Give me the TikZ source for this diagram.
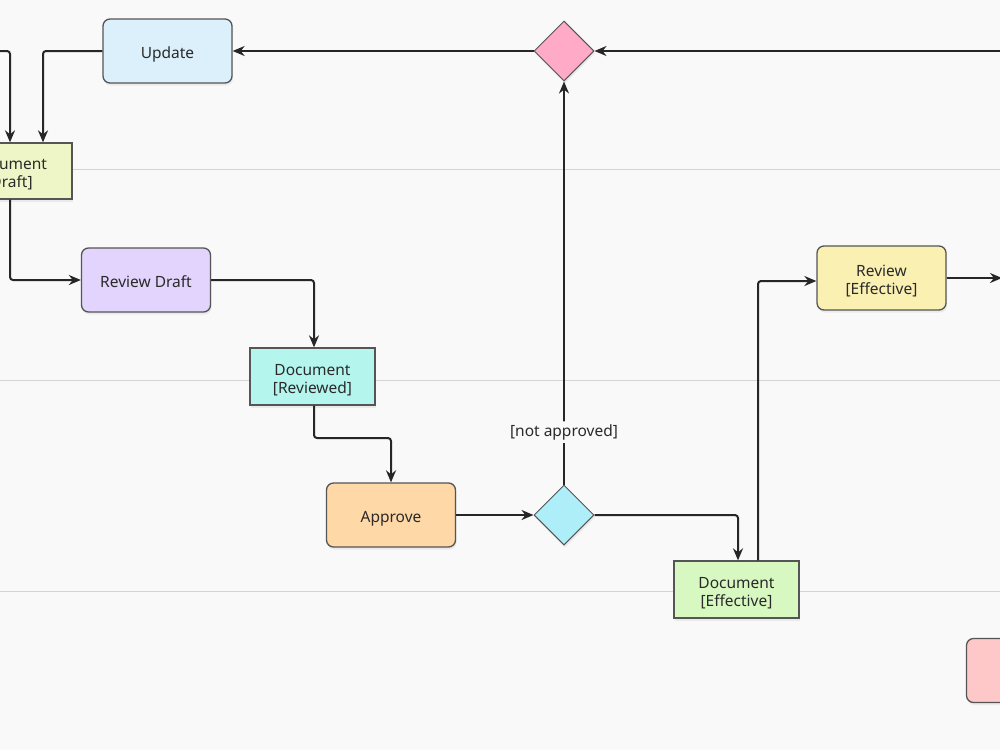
\documentclass[tikz,border=0pt]{standalone}
\usepackage{fontspec}
\setmainfont{Noto Sans}
\usetikzlibrary{shapes.geometric,arrows.meta,shadows}
\definecolor{bg}{HTML}{F9F9F9}
\definecolor{lane}{HTML}{D4D4D4}
\definecolor{edgec}{HTML}{555555}
\definecolor{txt}{HTML}{2A2A2A}
\definecolor{cUpdate}{HTML}{DCF0FB}
\definecolor{cPink}{HTML}{FFAAC6}
\definecolor{cDraft}{HTML}{EEF6C8}
\definecolor{cRevDraft}{HTML}{E2D4FC}
\definecolor{cReviewed}{HTML}{B4F5EE}
\definecolor{cApprove}{HTML}{FFD8A8}
\definecolor{cCyan}{HTML}{AEEEF8}
\definecolor{cEff}{HTML}{D8F8C2}
\definecolor{cRevEff}{HTML}{FAF0B2}
\definecolor{cRed}{HTML}{FFC8C8}
\newcommand{\lowtxt}[1]{\raisebox{-4pt}[\height][\depth]{\begin{tabular}{@{}c@{}}#1\end{tabular}}}
\tikzset{
  txtfont/.style={font=\fontsize{15.5}{18}\selectfont},
  base/.style={draw=edgec, line width=1.3pt, text=txt, txtfont, align=center, inner sep=0pt,
    drop shadow={opacity=0.12, shadow xshift=1pt, shadow yshift=-2.5pt}},
  actbox/.style={base, rectangle, rounded corners=7pt, minimum width=129pt, minimum height=64pt},
  objbox/.style={base, rectangle, minimum width=125pt, minimum height=57pt},
  decbox/.style={base, diamond, minimum width=60pt, minimum height=60pt, line width=1pt},
  flow/.style={line width=2pt, black!85, rounded corners=3pt, -{Stealth[length=12pt,width=10pt]}},
  lanel/.style={lane, line width=0.9pt}
}
\begin{document}
\begin{tikzpicture}[x=1pt,y=-1pt]
\useasboundingbox (0,0) rectangle (1000,750);
\fill[bg] (0,0) rectangle (1000,750);
\clip (0,0) rectangle (1000,750);
\draw[lanel] (0,169) -- (1000,169);
\draw[lanel] (0,380) -- (1000,380);
\draw[lanel] (0,591) -- (1000,591);

\node[actbox, fill=cUpdate] (update) at (167.5,51) {\lowtxt{Update}};
\node[decbox, fill=cPink] (merge) at (564,51) {};
\node[objbox, fill=cDraft, minimum width=126pt, minimum height=56pt] (draft) at (9,171) {\lowtxt{Document\\{}[Draft]}};
\node[actbox, fill=cRevDraft] (revdraft) at (146,280) {\lowtxt{Review Draft}};
\node[objbox, fill=cReviewed] (reviewed) at (312.5,376.5) {\lowtxt{Document\\{}[Reviewed]}};
\node[actbox, fill=cApprove] (approve) at (391,515) {\lowtxt{Approve}};
\node[decbox, fill=cCyan] (dec) at (564,515) {};
\node[objbox, fill=cEff] (effective) at (736.5,589.5) {\lowtxt{Document\\{}[Effective]}};
\node[actbox, fill=cRevEff] (reveff) at (881.5,278) {\lowtxt{Review\\{}[Effective]}};
\node[actbox, fill=cRed] (redbox) at (1031,670.5) {};

\coordinate (inleft) at (-5,51);
\coordinate (inright) at (1005,51);
\coordinate (outright) at (1002,278);

\draw[flow] (inleft) -| (draft.north -| 10,0);
\draw[flow] (update.west) -| (draft.north -| 43,0);
\draw[flow] (merge.west) -- (update.east);
\draw[flow] (inright) -- (merge.east);
\draw[flow] (dec.north) -- node[fill=bg, text=txt, txtfont, inner sep=3pt, pos=0.13] {[not approved]} (merge.south);
\draw[flow] (draft.south -| 10,0) |- (revdraft.west);
\draw[flow] (revdraft.east) -| (reviewed.north -| 314,0);
\draw[flow] (reviewed.south -| 314,0) -- (314,438) -| (approve.north);
\draw[flow] (approve.east) -- (dec.west);
\draw[flow] (dec.east) -| (effective.north -| 738,0);
\draw[flow] (effective.north -| 758,0) |- (reveff.west |- 0,281);
\draw[flow] (reveff.east) -- (outright);
\end{tikzpicture}
\end{document}
